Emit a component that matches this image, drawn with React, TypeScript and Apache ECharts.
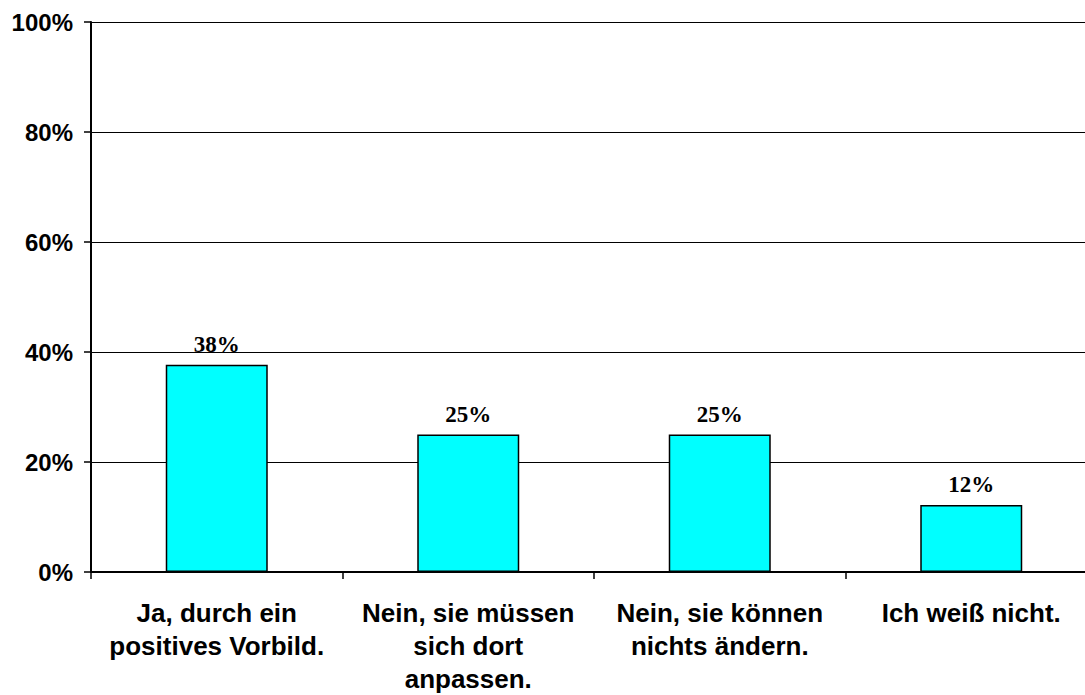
import React, { useEffect, useRef } from "react";
import * as echarts from "echarts";

const categories = [
  "Ja, durch ein\npositives Vorbild.",
  "Nein, sie müssen\nsich dort\nanpassen.",
  "Nein, sie können\nnichts ändern.",
  "Ich weiß nicht.",
];
const values = [37.7, 25, 25, 12.2];
const yTicks = { min: 0, max: 100, interval: 20 };

export default function App() {
  const ref = useRef<HTMLDivElement>(null);
  useEffect(() => {
    if (!ref.current) return;
    const chart = echarts.init(ref.current, undefined, { renderer: "svg" });
    chart.setOption({
      animation: false,
      backgroundColor: "#ffffff",
      grid: { left: 91, top: 22, width: 1006, height: 552 },
      xAxis: {
        type: "category",
        data: categories,
        axisLine: { lineStyle: { color: "#000", width: 2 } },
        axisTick: { show: true, length: 7, inside: false, lineStyle: { color: "#000", width: 1.5 } },
        axisLabel: {
          interval: 0,
          margin: 24,
          color: "#000",
          fontFamily: "Liberation Sans",
          fontWeight: "bold",
          fontSize: 26,
          lineHeight: 33,
          align: "center",
        },
      },
      yAxis: {
        type: "value",
        min: yTicks.min,
        max: yTicks.max,
        interval: yTicks.interval,
        axisLine: { show: true, lineStyle: { color: "#000", width: 2 } },
        axisTick: { show: true, length: 7, lineStyle: { color: "#000", width: 1.5 } },
        axisLabel: {
          formatter: "{value}%",
          margin: 18,
          color: "#000",
          fontFamily: "Liberation Sans",
          fontWeight: "bold",
          fontSize: 24,
        },
        splitLine: { show: true, lineStyle: { color: "#000", width: 1.2 } },
      },
      series: [
        {
          type: "bar",
          data: values,
          barWidth: 102,
          itemStyle: { color: "#00FFFF", borderColor: "#000", borderWidth: 1.5 },
          label: {
            show: true,
            position: "top",
            distance: 9,
            formatter: (p: any) => Math.round(p.value) + "%",
            color: "#000",
            fontFamily: "Liberation Serif",
            fontWeight: "bold",
            fontSize: 23,
          },
        },
      ],
    });
    return () => chart.dispose();
  }, []);
  return (
    <div
      style={{
        position: "fixed",
        left: 0,
        top: 0,
        width: 1085,
        height: 695,
        overflow: "hidden",
        background: "#fff",
      }}
    >
      <div ref={ref} style={{ width: 1110, height: 695 }} />
    </div>
  );
}
